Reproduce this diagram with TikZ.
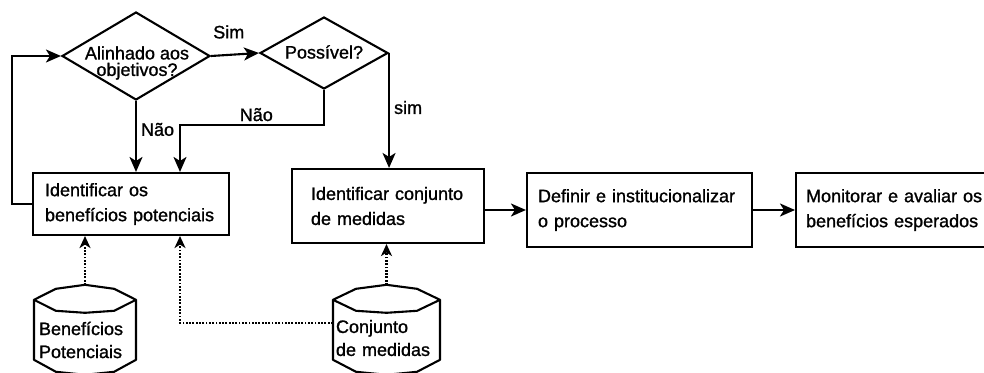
\documentclass[tikz,border=0pt]{standalone}
\usepackage{fontspec}
\setmainfont{Liberation Sans}[FakeBold=1.2]
\usetikzlibrary{arrows.meta,shapes.geometric,calc}

\tikzset{
  ln/.style={line width=2.1pt},
  txt/.style={font=\fontsize{18}{25}\selectfont},
  procbox/.style={draw, ln, txt, align=left, inner sep=0pt},
  decision/.style={draw, ln, shape=diamond, inner sep=0pt},
  dtext/.style={font=\fontsize{18}{16.5}\selectfont, align=center, inner sep=0pt},
  store/.style={font=\fontsize{18}{23}\selectfont, align=left, inner sep=0pt},
  lab/.style={txt, inner sep=0pt},
  flow/.style={ln, -{Stealth[length=15pt,width=13pt,inset=4pt]}},
  feed/.style={ln, dash pattern=on 1.8pt off 1.5pt, -{Stealth[length=12pt,width=11pt,inset=3.5pt]}},
}

% outline of a data store (polygonal cylinder) around a node: name, half width
\newcommand\storeoutline[2]{%
  \draw[ln, line join=round]
    ($(#1.north)+({-#2},15)$) -- ($(#1.north)+({-0.57*#2},4)$) -- (#1.north)
    -- ($(#1.north)+({0.57*#2},4)$) -- ($(#1.north)+({#2},15)$)
    -- ($(#1.north)+({0.57*#2},26)$) -- ($(#1.north)+(0,28)$)
    -- ($(#1.north)+({-0.57*#2},26)$) -- cycle;
  \draw[ln, line join=round]
    ($(#1.north)+({-#2},15)$) -- ($(#1.north)+({-#2},75)$)
    -- ($(#1.north)+({-0.57*#2},87)$) -- ($(#1.north)+(0,90)$)
    -- ($(#1.north)+({0.57*#2},87)$) -- ($(#1.north)+({#2},75)$)
    -- ($(#1.north)+({#2},15)$);
}

\begin{document}
\begin{tikzpicture}[x=1pt,y=-1pt]
\useasboundingbox (0,0) rectangle (984,372);
\clip (0,0) rectangle (984,372);

% decisions
\node[decision, minimum width=148pt, minimum height=88pt] (d1) at (136,56) {};
\node[dtext] (t1) at (137,63) {Alinhado aos\\objetivos?};
\node[decision, minimum width=128pt, minimum height=72pt] (d2) at (324,53) {};
\node[dtext] (t2) at (324,52) {Possível?};

% process boxes
\node[procbox, minimum width=196pt, minimum height=62pt, text width=172pt] (b1) at (131,204)
  {Identificar os\\benefícios potenciais};
\node[procbox, minimum width=192pt, minimum height=74pt, text width=154pt] (b2) at (388,206)
  {Identificar conjunto\\de medidas};
\node[procbox, minimum width=225pt, minimum height=74pt, text width=203pt] (b3) at (639.5,210)
  {Definir e institucionalizar\\o processo};
\node[procbox, minimum width=290pt, minimum height=74pt, text width=270pt, anchor=west] (b4) at (795,210)
  {Monitorar e avaliar os\\benefícios esperados};

% data stores
\node[store, minimum width=102pt, minimum height=110pt, text width=92pt] (c1) at (85,340)
  {Benefícios\\Potenciais};
\node[store, minimum width=107pt, minimum height=106pt, text width=101pt] (c2) at (386.5,338)
  {Conjunto\\de medidas};
\storeoutline{c1}{51}
\storeoutline{c2}{53.5}

\coordinate (n2) at (180,125);

% control flow
\draw[flow] (b1.west) -- ++(-20,0) |- (d1.west);
\draw[flow] (d1.east) -- (d2.west)
  node[lab, pos=0.37, anchor=base, yshift=16.5pt] {Sim};
\draw[flow] (d1.south) -- (d1.south |- b1.north)
  node[lab, pos=0.49, anchor=base west, xshift=4pt] {Não};
\draw[flow] (d2.south) -- (d2.south |- n2)
  -- node[lab, pos=0.47, anchor=base, yshift=4pt] {Não} (n2)
  -- (n2 |- b1.north);
\draw[flow] (d2.east) -- (d2.east |- b2.north)
  node[lab, pos=0.53, anchor=base west, xshift=4pt] {sim};
\draw[flow] (b2.east |- b3.west) -- (b3.west);
\draw[flow] (b3.east) -- (b4.west);

% inputs from the data stores
\draw[feed] (c1.north) -- (c1.north |- b1.south);
\draw[feed] (c2.north) -- (c2.north |- b2.south);
\draw[feed] ([yshift=15pt]c2.west) -| (n2 |- b1.south);
\end{tikzpicture}
\end{document}
